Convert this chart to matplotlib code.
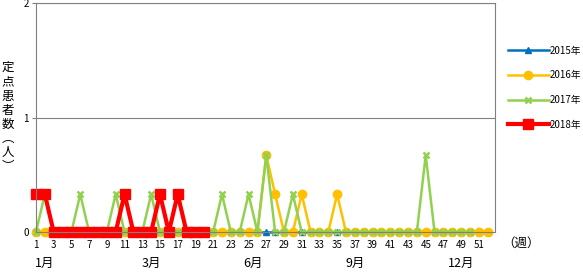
import numpy as np
import matplotlib
matplotlib.use("Agg")
import matplotlib.pyplot as plt

plt.rcParams['font.family'] = ['Noto Sans CJK JP', 'DejaVu Sans']

# weekly values (per sentinel site)
weeks = list(range(1, 53))

y2015 = [0] * 52

y2016 = [0] * 52
y2016[27 - 1] = 0.67
y2016[28 - 1] = 0.33
y2016[31 - 1] = 0.33
y2016[35 - 1] = 0.33

y2017 = [0] * 50
for w in [2, 6, 10, 14, 22, 25, 30]:
    y2017[w - 1] = 0.33
y2017[27 - 1] = 0.67
y2017[45 - 1] = 0.67

y2018 = [0.33, 0.33, 0, 0, 0, 0, 0, 0, 0, 0,
         0.33, 0, 0, 0, 0.33, 0, 0.33, 0, 0, 0]

month_labels = ['1月', '3月', '6月', '9月', '12月']
month_pos = [2, 14, 25.5, 37, 49]

fig = plt.figure(figsize=(5.83, 2.73), dpi=100)
ax = fig.add_axes([0.0617, 0.150, 0.787, 0.839])

ax.plot(weeks[:len(y2015)], y2015, color='#0070C0', lw=1.8, marker='^', ms=4, label='2015年', clip_on=False)
ax.plot(weeks[:len(y2016)], y2016, color='#FFC000', lw=1.8, marker='o', ms=6, label='2016年', clip_on=False)
ax.plot(weeks[:len(y2017)], y2017, color='#92D050', lw=1.8, marker='x', ms=5, mew=1.8, label='2017年', clip_on=False)
ax.plot(weeks[:len(y2018)], y2018, color='#FF0000', lw=3, marker='s', ms=7, label='2018年', clip_on=False)

ax.set_xlim(1, 52.8)
ax.set_ylim(0, 2)
ax.set_yticks([0, 1, 2])
ax.set_xticks(weeks[::2])
ax.tick_params(axis='both', labelsize=7, length=3, color='#808080', pad=2)
ax.tick_params(axis='x', length=0, pad=6)
ax.grid(axis='y', color='#808080', lw=0.8)
ax.set_axisbelow(True)
for s in ax.spines.values():
    s.set_color('#808080')

# stacked vertical axis label (vertical-form brackets)
fig.text(0.013, 0.57, '\n'.join('定点患者数︵人︶'), ha='center', va='center',
         fontsize=9, linespacing=1.12)

for lab, pos in zip(month_labels, month_pos):
    ax.annotate(lab, xy=(pos, 0.035), xycoords=('data', 'figure fraction'),
                ha='center', va='center', fontsize=9)

fig.text(0.893, 0.108, '（週）', ha='center', va='center', fontsize=9)

ax.legend(loc='upper left', bbox_to_anchor=(1.02, 0.83), frameon=False, fontsize=7,
          handlelength=4.2, labelspacing=1.5, handletextpad=0.1, borderaxespad=0)

fig.savefig('out.png', dpi=100)
